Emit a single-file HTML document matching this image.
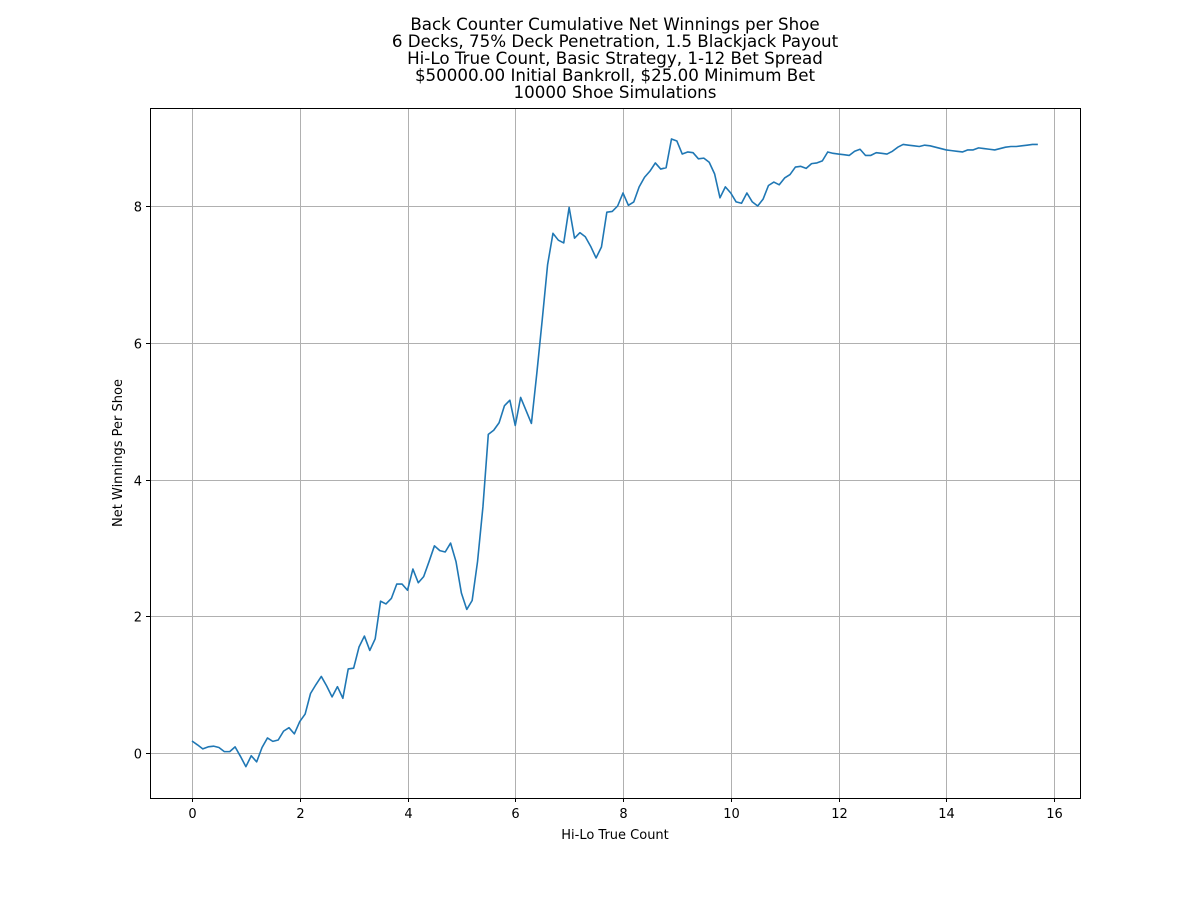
<!DOCTYPE html>
<html><head><meta charset="utf-8"><style>
body{margin:0;background:#fff;}
svg text{font-family:"DejaVu Sans","Liberation Sans",sans-serif;fill:#000;}
</style></head><body>
<svg id="chart" width="1200" height="897" xmlns="http://www.w3.org/2000/svg">
<rect width="1200" height="897" fill="#fff"/>
<g font-size="16.7" text-anchor="middle">
<text x="615" y="30">Back Counter Cumulative Net Winnings per Shoe</text>
<text x="615" y="47">6 Decks, 75% Deck Penetration, 1.5 Blackjack Payout</text>
<text x="615" y="64">Hi-Lo True Count, Basic Strategy, 1-12 Bet Spread</text>
<text x="615" y="81">$50000.00 Initial Bankroll, $25.00 Minimum Bet</text>
<text x="615" y="98">10000 Shoe Simulations</text>
</g>
<g id="grid"></g>
<g id="ticks"></g>
<path id="line" fill="none" stroke="#1f77b4" stroke-width="1.6" stroke-linejoin="round"/>
<rect x="150.5" y="108.5" width="930" height="690" fill="none" stroke="#000" stroke-width="1"/>
<text x="615" y="839" font-size="13" text-anchor="middle">Hi-Lo True Count</text>
<text x="0" y="0" font-size="13" text-anchor="middle" transform="translate(122,453) rotate(-90)">Net Winnings Per Shoe</text>
</svg>
<script>
const xTicks=[0,2,4,6,8,10,12,14,16];
const yTicks=[0,2,4,6,8];
const xStep=0.1;
const winnings=[0.175,0.12,0.06,0.09,0.1,0.08,0.02,0.02,0.09,-0.05,-0.2,
-0.04,-0.13,0.08,0.22,0.17,0.19,0.32,0.37,0.28,0.46,
0.57,0.87,1.0,1.12,0.98,0.82,0.97,0.8,1.23,1.24,
1.55,1.71,1.5,1.67,2.22,2.18,2.26,2.47,2.47,2.38,
2.69,2.49,2.58,2.8,3.03,2.96,2.94,3.07,2.8,2.34,
2.10,2.23,2.8,3.6,4.66,4.72,4.83,5.08,5.16,4.79,
5.2,5.01,4.82,5.55,6.33,7.14,7.6,7.5,7.46,7.98,
7.53,7.61,7.55,7.41,7.24,7.4,7.91,7.92,8.0,8.19,
8.01,8.06,8.28,8.42,8.51,8.63,8.54,8.56,8.98,8.95,
8.76,8.79,8.78,8.69,8.7,8.64,8.47,8.12,8.28,8.19,
8.06,8.04,8.19,8.06,8.0,8.1,8.3,8.35,8.31,8.41,
8.46,8.57,8.58,8.55,8.62,8.63,8.66,8.79,8.77,8.76,
8.75,8.74,8.8,8.83,8.74,8.74,8.78,8.77,8.76,8.8,
8.86,8.9,8.89,8.88,8.87,8.89,8.88,8.86,8.84,8.82,
8.81,8.8,8.79,8.82,8.82,8.85,8.84,8.83,8.82,8.84,
8.86,8.87,8.87,8.88,8.89,8.9,8.9];
const X=v=>192+v*53.875;
const Y=v=>753-v*68.375;
const NS="http://www.w3.org/2000/svg";
const grid=document.getElementById('grid'), ticks=document.getElementById('ticks');
function mk(tag,attrs,parent){const e=document.createElementNS(NS,tag);for(const k in attrs)e.setAttribute(k,attrs[k]);parent.appendChild(e);return e;}
xTicks.forEach(t=>{
  const x=Math.round(X(t))+0.5;
  const g=mk('line',{x1:x,x2:x,y1:108,y2:798,stroke:'#b0b0b0','stroke-width':1},grid);
  
  
  const tk=mk('line',{x1:x,x2:x,y1:798,y2:802,stroke:'#000'},ticks);
  
  
  const tx=mk('text',{x:x,y:818,'font-size':13,'text-anchor':'middle'},ticks);
  tx.textContent=t;
  
  
});
yTicks.forEach(t=>{
  const y=Math.round(Y(t))+0.5;
  const g=mk('line',{x1:150,x2:1080,y1:y,y2:y,stroke:'#b0b0b0','stroke-width':1},grid);
  
  
  const tk=mk('line',{x1:146,x2:150,y1:y,y2:y,stroke:'#000'},ticks);
  
  
  const tx=mk('text',{x:142,y:y+5,'font-size':13,'text-anchor':'end'},ticks);
  tx.textContent=t;
  
  
});
document.getElementById('line').setAttribute('d',winnings.map((v,i)=>(i?'L':'M')+X(i*xStep).toFixed(2)+' '+Y(v).toFixed(2)).join(' '));
</script>
</body></html>
